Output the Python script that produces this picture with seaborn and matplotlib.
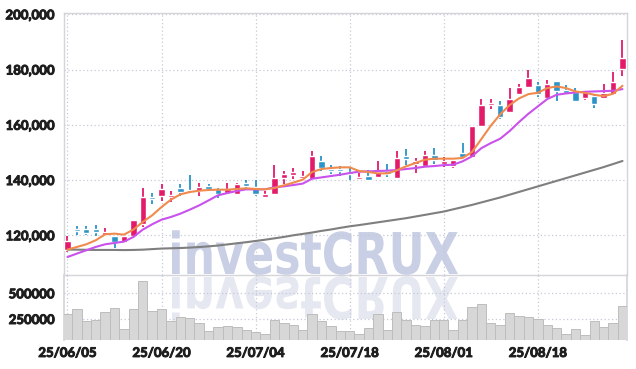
import numpy as np
import pandas as pd
import matplotlib
matplotlib.use('Agg')
import matplotlib.pyplot as plt
import matplotlib.patheffects as pe
import seaborn as sns
from matplotlib.textpath import TextPath
from matplotlib.patches import PathPatch
from matplotlib.font_manager import FontProperties
from matplotlib.transforms import Affine2D

# trading days shown on the chart
dates = ['25/06/05', '25/06/09', '25/06/10', '25/06/11', '25/06/12', '25/06/13',
         '25/06/16', '25/06/17', '25/06/18', '25/06/19', '25/06/20',
         '25/06/23', '25/06/24', '25/06/25', '25/06/26', '25/06/27', '25/06/30',
         '25/07/01', '25/07/02', '25/07/03', '25/07/04',
         '25/07/07', '25/07/08', '25/07/09', '25/07/10', '25/07/11',
         '25/07/14', '25/07/15', '25/07/16', '25/07/17', '25/07/18',
         '25/07/21', '25/07/22', '25/07/23', '25/07/24', '25/07/25',
         '25/07/28', '25/07/29', '25/07/30', '25/07/31', '25/08/01',
         '25/08/04', '25/08/05', '25/08/06', '25/08/07', '25/08/08',
         '25/08/11', '25/08/12', '25/08/13', '25/08/14', '25/08/18',
         '25/08/19', '25/08/20', '25/08/21', '25/08/22',
         '25/08/25', '25/08/26', '25/08/27', '25/08/28', '25/08/29']

open_ = [114830, 121800, 122170, 122290, 120240, 119640, 117710, 119880, 124090, 133740,
         134360, 133850, 137000, 136270, 136150, 137240, 136880, 135440, 134950, 138800,
         137480, 133850, 135070, 140870, 141950, 140630, 140360, 146770, 143750, 143870,
         142900, 140360, 141340, 141100, 143270, 140870, 148100, 145930, 145200, 149040,
         145800, 145070, 149650, 148340, 159420, 167140, 167020, 164730, 171110, 173780,
         174490, 169670, 175950, 172440, 171710, 169670, 170390, 169790, 171230, 180120]
high = [119750, 123360, 123500, 123860, 122500, 119700, 119700, 125700, 137220, 135480,
        138440, 135900, 138440, 141700, 139060, 138700, 137000, 139060, 139060, 139880,
        140000, 135900, 145540, 143150, 144500, 143270, 150500, 148580, 145320, 145070,
        144360, 142660, 143510, 146890, 145680, 150500, 151200, 147980, 150380, 151470,
        148340, 147300, 153280, 159420, 169190, 169430, 168460, 173410, 174860, 179920,
        175450, 176300, 176000, 174490, 173170, 171710, 171110, 174860, 179190, 190720]
low = [113850, 120000, 120000, 119750, 120000, 115550, 117110, 119880, 123000, 131500,
       132400, 132200, 134100, 135200, 134360, 135900, 133490, 135200, 134710, 136880,
       134100, 133610, 134710, 138700, 140360, 140240, 140240, 143270, 142290, 141340,
       140000, 140240, 140000, 140960, 140960, 140600, 145320, 142660, 145000, 145800,
       144840, 144240, 148000, 148340, 159180, 165570, 162080, 164500, 170630, 173500,
       170150, 169300, 168580, 171200, 168220, 169060, 166180, 169500, 171000, 177830]
close = [117830, 121400, 120830, 121200, 120970, 117470, 119640, 125530, 133740, 133130,
         136640, 134360, 135780, 135780, 137360, 136880, 134830, 136640, 138540, 137960,
         134950, 135070, 140720, 142060, 142540, 141340, 148580, 144360, 143150, 143150,
         142290, 141100, 140000, 142900, 142060, 147860, 147740, 146770, 149040, 147380,
         146890, 147140, 148210, 159420, 167020, 167740, 162920, 169430, 173530, 177040,
         171230, 174610, 172200, 171470, 168580, 171710, 167500, 171470, 175340, 184220]

# moving averages
ma_short = [114830, 115780, 116740, 118190, 120360, 120600, 120240, 122050, 124810, 127230,
            130240, 132900, 134830, 135660, 136150, 136400, 136520, 136520, 136760, 137000,
            136760, 136640, 137120, 138080, 139060, 140120, 142900, 143990, 144360, 144600,
            144600, 143270, 142900, 142420, 142420, 143510, 144960, 146170, 147380, 147740,
            147740, 147740, 147980, 150140, 154850, 159660, 163770, 167140, 169550, 171110,
            171590, 173290, 173890, 173290, 172080, 171590, 170870, 170390, 171230, 174130]
ma_mid = [112150, 113380, 114580, 115780, 116740, 117230, 117710, 119380, 122050, 123980,
          125660, 126630, 127830, 129280, 130830, 132640, 134470, 135300, 136030, 136640,
          136600, 136640, 137360, 137720, 138200, 138700, 140480, 140960, 141450, 141940,
          142540, 143030, 143150, 143270, 143390, 143630, 143990, 144360, 144840, 145070,
          145400, 145560, 146770, 148580, 151560, 153370, 154970, 157740, 160990, 164000,
          166660, 169310, 170870, 171350, 171710, 171950, 172080, 172200, 172320, 172920]
ma_long = [114830, 114800, 114750, 114700, 114700, 114700, 114650, 114700, 114800, 115000,
           115200, 115300, 115400, 115550, 115750, 116000, 116300, 116700, 117100, 117500,
           117950, 118400, 118900, 119400, 120000, 120500, 121000, 121600, 122100, 122700,
           123250, 123700, 124200, 124700, 125200, 125700, 126200, 126800, 127400, 128000,
           128600, 129400, 130200, 131000, 131900, 132800, 133700, 134700, 135700, 136700,
           137700, 138700, 139700, 140700, 141700, 142700, 143700, 144700, 145800, 146900]

volume = [298640, 344360, 230540, 240270, 318100, 354090, 152720, 347280, 619660, 327820,
          347280, 230540, 269460, 259730, 211090, 133260, 169250, 181900, 169250, 142990,
          120610, 101150, 240270, 211090, 191630, 142990, 298640, 230540, 178660, 133260,
          133260, 101150, 159520, 298640, 142990, 318100, 240270, 191630, 181900, 240270,
          240270, 142990, 240270, 363820, 395920, 211090, 191630, 308370, 279180, 269460,
          250000, 191630, 162450, 104070, 152720, 91430, 230540, 172180, 211090, 376460]

df = pd.DataFrame({'idx': np.arange(len(dates)), 'date': dates, 'open': open_, 'high': high,
                   'low': low, 'close': close, 'ma5': ma_short, 'ma20': ma_mid,
                   'ma60': ma_long, 'volume': volume})

UP = '#e3196a'
DOWN = '#2b93c8'
GRID = '#c6cad8'
SPINE = '#d4d4da'
LABEL = '#1e1e1e'

sns.set_theme(style='white')
plt.rcParams['font.family'] = ['Lato', 'DejaVu Sans']

fig = plt.figure(figsize=(6.36, 3.69), dpi=100)
ax = fig.add_axes([64/636, 94/369, 563/636, 262.3/369])
axv = fig.add_axes([64/636, 29/369, 563/636, 65/369])
for a in (ax, axv):
    a.set_facecolor('none')

# watermark with reflection
fp = FontProperties(family='DejaVu Sans', weight='bold')
tp = TextPath((0, 0), 'investCRUX', size=100, prop=fp)
bb = tp.get_extents()
sx = 286 / bb.width
sy = 42 / 73.0
x0 = 172 - bb.x0 * sx
fig.add_artist(PathPatch(tp, transform=Affine2D().scale(sx, sy).translate(x0, 95),
                         fc='#c9cfe4', ec='none', zorder=-1))
fig.add_artist(PathPatch(tp, transform=Affine2D().scale(sx, -sy).translate(x0, 92),
                         fc='#e6e8f1', ec='none', zorder=-1))

# candles
up = df['close'] >= df['open']
cols = np.where(up, UP, DOWN)
body_lo = np.minimum(df['open'], df['close'])
body_h = np.maximum(np.abs(df['close'] - df['open']), 800)
ax.vlines(df['idx'], df['low'], df['high'], colors=cols, lw=1.3, zorder=2)
ax.bar(df['idx'], body_h, bottom=body_lo, width=0.68, color=cols, zorder=3)

sns.lineplot(data=df, x='idx', y='ma60', color='#7f7f7f', lw=1.5, ax=ax, zorder=4)
sns.lineplot(data=df, x='idx', y='ma20', color='#c951ec', lw=1.5, ax=ax, zorder=4)
sns.lineplot(data=df, x='idx', y='ma5', color='#f08a4d', lw=1.5, ax=ax, zorder=5)

ax.set_xlim(-0.37, 59.48)
ax.set_ylim(105630, 200580)
ax.set_yticks([120000, 140000, 160000, 180000, 200000])
ax.set_yticklabels(['{:,}'.format(v) for v in [120000, 140000, 160000, 180000, 200000]])
ax.set_xticks(range(0, 60, 10))
ax.set_xticklabels([])
ax.grid(True, ls=(0, (1, 2)), color=GRID, lw=0.9, zorder=0)
ax.set_xlabel('')
ax.set_ylabel('')
for s in ax.spines.values():
    s.set_color(SPINE)
    s.set_linewidth(1.0)

# volume
sns.barplot(data=df, x='idx', y='volume', color='#d7d7d7', edgecolor='#bdbdbd',
            linewidth=0.7, width=1.0, saturation=1, ax=axv, zorder=3)
axv.set_xlim(-0.37, 59.48)
axv.set_ylim(45700, 678000)
axv.set_yticks([250000, 500000])
axv.set_yticklabels(['250000', '500000'])
axv.set_xticks(range(0, 60, 10))
axv.set_xticklabels([dates[i] for i in range(0, 60, 10)])
axv.grid(True, ls=(0, (1, 2)), color=GRID, lw=0.9, zorder=0)
axv.set_xlabel('')
axv.set_ylabel('')
for k, s in axv.spines.items():
    s.set_color(SPINE)
    s.set_visible(k in ('left', 'right'))

# heavier tick labels: thicken glyphs with a thin stroke
for a in (ax, axv):
    a.tick_params(length=0, labelsize=9.5, labelcolor=LABEL)
    for t in a.get_yticklabels() + a.get_xticklabels():
        t.set_fontweight('bold')
        t.set_path_effects([pe.withStroke(linewidth=0.7, foreground=LABEL)])
ax.tick_params(axis='y', pad=6.5)
axv.tick_params(axis='y', pad=6.5)
axv.tick_params(axis='x', pad=5)

fig.savefig('out.png', dpi=100)
